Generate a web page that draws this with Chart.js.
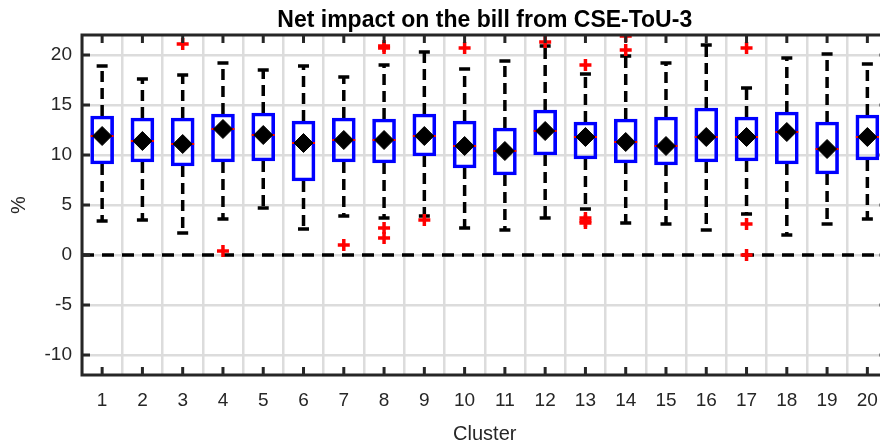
<!DOCTYPE html>
<html>
<head>
<meta charset="utf-8">
<script src="https://cdn.jsdelivr.net/npm/chart.js@4/dist/chart.umd.min.js"></script>
<style>
    body { margin: 0; overflow: hidden; background: #fff; }
</style>
</head>
<body>
<canvas id="chartCanvas" width="901" height="444"></canvas>
<script>
// Box plot values, one entry per cluster
const clusters = [1, 2, 3, 4, 5, 6, 7, 8, 9, 10, 11, 12, 13, 14, 15, 16, 17, 18, 19, 20];
const q1 = [9.1, 9.3, 8.9, 9.3, 9.4, 7.4, 9.3, 9.2, 9.9, 8.7, 8.0, 10.0, 9.6, 9.2, 9.0, 9.3, 9.4, 9.1, 8.1, 9.5];
const q3 = [13.9, 13.7, 13.7, 14.1, 14.2, 13.4, 13.7, 13.6, 14.1, 13.4, 12.7, 14.5, 13.3, 13.6, 13.8, 14.7, 13.8, 14.3, 13.3, 14.0];
const medians = [11.9, 11.4, 11.1, 12.6, 12.0, 11.2, 11.5, 11.5, 11.9, 10.9, 10.4, 12.4, 11.8, 11.3, 10.9, 11.8, 11.8, 12.3, 10.6, 11.8];
const means = [11.9, 11.4, 11.1, 12.6, 12.0, 11.2, 11.5, 11.5, 11.9, 10.9, 10.4, 12.4, 11.8, 11.3, 10.9, 11.8, 11.8, 12.3, 10.6, 11.8];
const whiskerHigh = [18.9, 17.6, 18.0, 19.2, 18.5, 18.9, 17.8, 19.0, 20.3, 18.6, 19.4, 20.9, 18.1, 19.9, 19.2, 21.0, 16.7, 19.7, 20.1, 19.1];
const whiskerLow = [3.4, 3.5, 2.2, 3.6, 4.7, 2.6, 3.9, 3.7, 3.9, 2.7, 2.5, 3.7, 4.6, 3.2, 3.1, 2.5, 4.1, 2.0, 3.1, 3.6];

// Outliers (cluster, value)
const outlierCluster = [3, 4, 7, 8, 8, 8, 8, 9, 10, 12, 13, 13, 13, 13, 14, 14, 17, 17, 17];
const outlierValue = [21.1, 0.4, 1.0, 20.7, 20.9, 2.7, 1.7, 3.5, 20.7, 21.3, 19.0, 3.7, 3.4, 3.2, 20.5, 21.9, 20.7, 3.1, 0.0];

const yTicks = [-10, -5, 0, 5, 10, 15, 20];
const refLine = 0;

const fontFamily = "'Liberation Sans', Arial, Helvetica, sans-serif";
const axisColor = '#262626';

// Build the datasets from the arrays above
const boxData = clusters.map((c, i) => ({x: c, y: [q1[i], q3[i]]}));

const upperWhisker = [];
const lowerWhisker = [];
clusters.forEach((c, i) => {
    upperWhisker.push({x: c, y: q3[i]}, {x: c, y: whiskerHigh[i]}, {x: c, y: null});
    lowerWhisker.push({x: c, y: q1[i]}, {x: c, y: whiskerLow[i]}, {x: c, y: null});
});

const caps = clusters.map((c, i) => ({x: c, y: whiskerHigh[i]}))
    .concat(clusters.map((c, i) => ({x: c, y: whiskerLow[i]})));
const medianData = clusters.map((c, i) => ({x: c, y: medians[i]}));
const meanData = clusters.map((c, i) => ({x: c, y: means[i]}));
const outlierData = outlierCluster.map((c, i) => ({x: c, y: outlierValue[i]}));

// Box frame with inward ticks, like the matlab axes
const framePlugin = {
    id: 'frame',
    afterDraw(chart) {
        const {ctx, chartArea: a, scales} = chart;
        const len = 8;
        ctx.save();
        ctx.strokeStyle = axisColor;
        ctx.lineWidth = 3;
        ctx.beginPath();
        clusters.forEach(c => {
            const px = scales.x.getPixelForValue(c);
            ctx.moveTo(px, a.bottom);
            ctx.lineTo(px, a.bottom - len);
            ctx.moveTo(px, a.top);
            ctx.lineTo(px, a.top + len);
        });
        yTicks.forEach(v => {
            const py = scales.y.getPixelForValue(v);
            ctx.moveTo(a.left, py);
            ctx.lineTo(a.left + len, py);
            ctx.moveTo(a.right, py);
            ctx.lineTo(a.right - len, py);
        });
        ctx.stroke();
        ctx.strokeRect(a.left, a.top, a.right - a.left, a.bottom - a.top);
        ctx.restore();
    }
};

const ctx = document.getElementById('chartCanvas').getContext('2d');
new Chart(ctx, {
    type: 'scatter',
    data: {
        datasets: [
            {
                type: 'scatter',
                data: outlierData,
                pointStyle: 'cross',
                pointRadius: 6,
                borderColor: '#ff0000',
                borderWidth: 3.5,
                order: 1
            },
            {
                type: 'scatter',
                data: meanData,
                pointStyle: 'rectRot',
                pointRadius: 9.5,
                backgroundColor: '#000000',
                borderColor: '#000000',
                borderWidth: 1,
                order: 2
            },
            {
                type: 'scatter',
                data: medianData,
                pointStyle: 'line',
                pointRadius: 11.5,
                borderColor: '#ff0000',
                borderWidth: 2,
                order: 3
            },
            {
                type: 'bar',
                data: boxData,
                barThickness: 23,
                grouped: false,
                backgroundColor: 'rgba(0,0,0,0)',
                borderColor: '#0000ff',
                borderWidth: 3,
                borderSkipped: false,
                order: 4
            },
            {
                type: 'scatter',
                data: caps,
                pointStyle: 'line',
                pointRadius: 5.5,
                borderColor: '#000000',
                borderWidth: 3.5,
                order: 5
            },
            {
                type: 'line',
                data: upperWhisker,
                borderColor: '#000000',
                borderWidth: 3.5,
                borderDash: [11, 6],
                pointRadius: 0,
                spanGaps: false,
                order: 6
            },
            {
                type: 'line',
                data: lowerWhisker,
                borderColor: '#000000',
                borderWidth: 3.5,
                borderDash: [11, 6],
                pointRadius: 0,
                spanGaps: false,
                order: 6
            },
            {
                type: 'line',
                data: [{x: 0.5, y: refLine}, {x: 20.5, y: refLine}],
                borderColor: '#000000',
                borderWidth: 3.5,
                borderDash: [12, 8],
                pointRadius: 0,
                order: 7
            }
        ]
    },
    options: {
        responsive: false,
        animation: false,
        layout: {padding: 0},
        plugins: {
            legend: {display: false},
            tooltip: {enabled: false},
            title: {
                display: true,
                text: 'Net impact on the bill from CSE-ToU-3',
                fullSize: false,
                color: '#000000',
                font: {family: fontFamily, size: 23, weight: 'bold', lineHeight: 1.2},
                padding: {top: 7, bottom: 0.4}
            }
        },
        scales: {
            x: {
                type: 'linear',
                min: 0.5,
                max: 20.5,
                offset: false,
                afterBuildTicks: scale => {
                    scale.ticks = clusters.map(v => ({value: v}));
                },
                afterFit: scale => { scale.height = 69; },
                ticks: {
                    color: axisColor,
                    padding: 14,
                    maxRotation: 0,
                    font: {family: fontFamily, size: 19}
                },
                grid: {color: '#dcdcdc', lineWidth: 2.5, drawTicks: false},
                border: {display: false},
                title: {
                    display: true,
                    text: 'Cluster',
                    color: axisColor,
                    font: {family: fontFamily, size: 20, lineHeight: 1},
                    padding: {top: 0, bottom: 0}
                }
            },
            y: {
                type: 'linear',
                min: -12,
                max: 22,
                afterBuildTicks: scale => {
                    scale.ticks = yTicks.map(v => ({value: v}));
                },
                afterFit: scale => { scale.width = 82; },
                ticks: {
                    color: axisColor,
                    padding: 10,
                    font: {family: fontFamily, size: 19}
                },
                grid: {color: '#dcdcdc', lineWidth: 2.5, drawTicks: false},
                border: {display: false},
                title: {
                    display: true,
                    text: '%',
                    color: axisColor,
                    font: {family: fontFamily, size: 20, lineHeight: 1},
                    padding: {top: 9, bottom: 0}
                }
            }
        }
    },
    plugins: [framePlugin]
});
</script>
</body>
</html>
